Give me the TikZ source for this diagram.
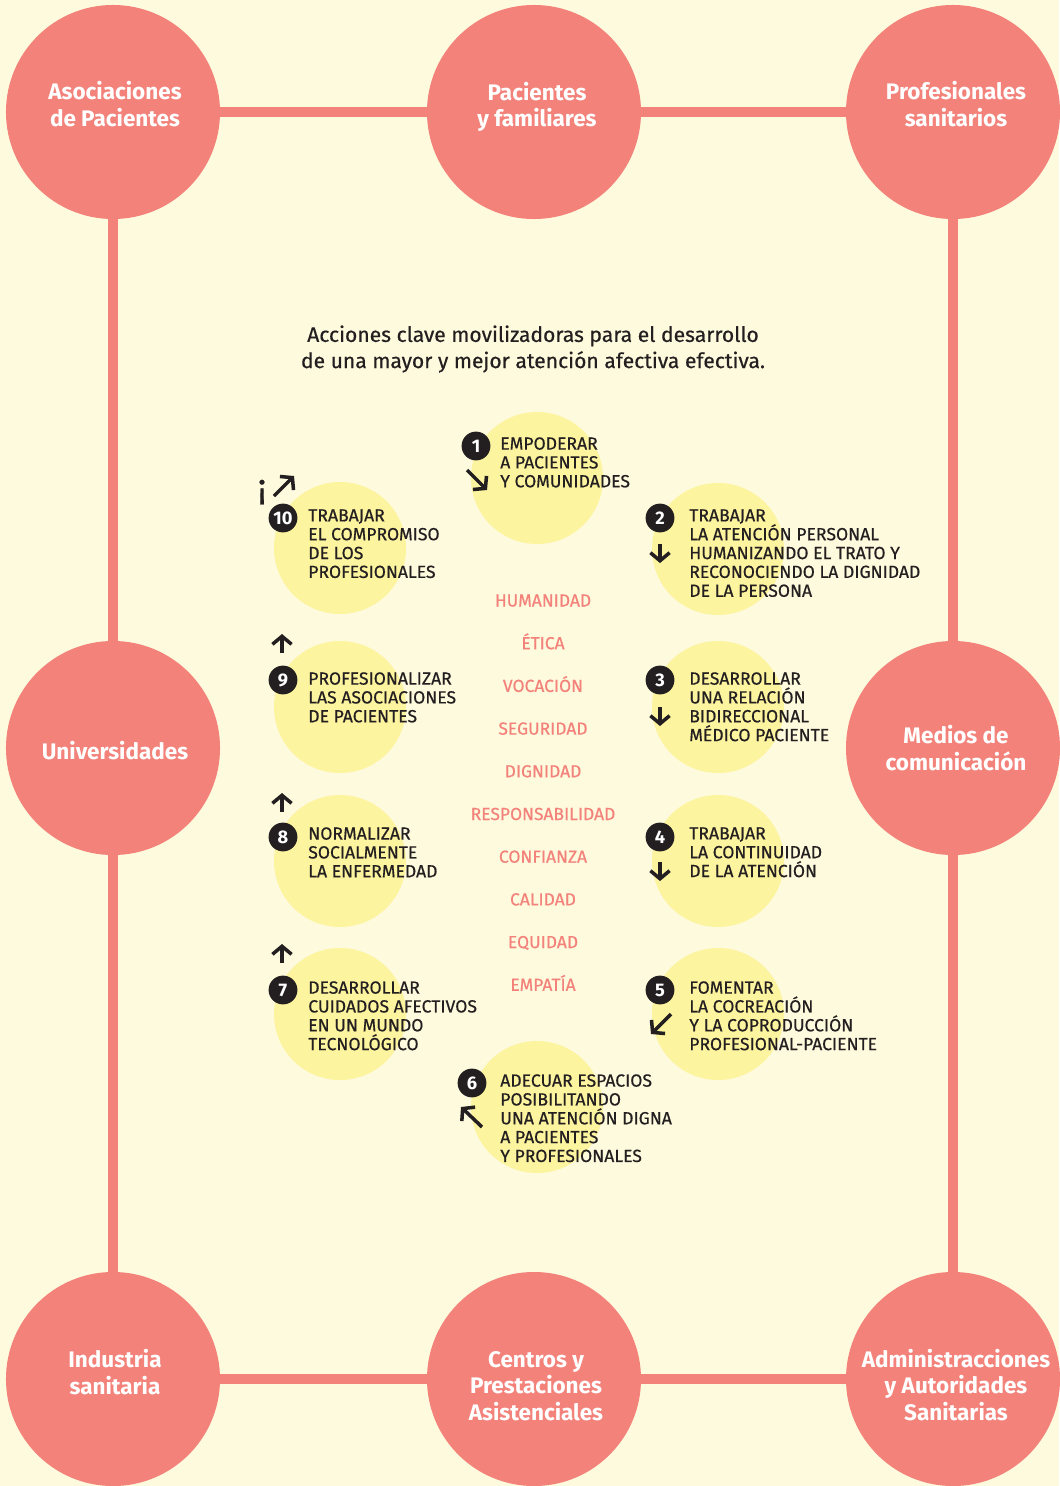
\documentclass[tikz,border=0pt]{standalone}
\usepackage{fontspec}
\setmainfont{Fira Sans}
\newfontfamily\medfont[FakeBold=0.5]{Fira Sans}
\usepackage{xcolor}
\usetikzlibrary{arrows.meta}
\definecolor{coral}{HTML}{F3827B}
\definecolor{cream}{HTML}{FEFADD}
\definecolor{spotyellow}{HTML}{FDF4A0}
\definecolor{ink}{HTML}{231F20}

\begin{document}
\begin{tikzpicture}[x=0.025cm, y=-0.025cm,
    actor/.style={circle, fill=coral, minimum size=5.35cm, inner sep=0},
    actortext/.style={align=center, text=white, inner sep=0, font=\bfseries\fontsize{16}{19}\selectfont},
    spot/.style={circle, fill=spotyellow, minimum size=3.3cm, inner sep=0},
    badge/.style={circle, fill=ink, minimum size=0.72cm, inner sep=0, text=white, font=\bfseries\fontsize{13}{13}\selectfont},
    action/.style={anchor=north west, align=left, inner sep=0, text=ink, font=\medfont\fontsize{12.5}{13.4}\selectfont},
    value/.style={anchor=base, inner sep=0, text=coral, font=\medfont\fontsize{12.4}{13}\selectfont},
    link/.style={draw=coral, line width=0.25cm},
    arr/.style={draw=ink, line width=2.5pt, -{Straight Barb[length=0.2cm, width=0.48cm]}}]
\useasboundingbox[fill=cream] (0,0) rectangle (1059,1486);

% actores
\node[actor] (asoc) at (113,112) {};
\node[actor] (pac) at (534,112) {};
\node[actor] (prof) at (953,112) {};
\node[actor] (univ) at (113,748) {};
\node[actor] (medios) at (953,748) {};
\node[actor] (ind) at (113,1379) {};
\node[actor] (centros) at (534,1379) {};
\node[actor] (admin) at (953,1379) {};
\draw[link] (asoc) -- (pac);
\draw[link] (pac) -- (prof);
\draw[link] (asoc) -- (univ);
\draw[link] (univ) -- (ind);
\draw[link] (prof) -- (medios);
\draw[link] (medios) -- (admin);
\draw[link] (ind) -- (centros);
\draw[link] (centros) -- (admin);
\node[actortext] (asoc-t) at (115,104) {Asociaciones\\de Pacientes};
\node[actortext] (pac-t) at (537,107) {Pacientes\\y familiares};
\node[actortext] (prof-t) at (956,104) {Profesionales\\sanitarios};
\node[actortext] (univ-t) at (115,751) {Universidades};
\node[actortext] (medios-t) at (956,748) {Medios de\\comunicación};
\node[actortext] (ind-t) at (115,1372) {Industria\\sanitaria};
\node[actortext] (centros-t) at (536,1386) {Centros y\\Prestaciones\\Asistenciales};
\node[actortext] (admin-t) at (956,1385) {Administracciones\\y Autoridades\\Sanitarias};

\node[align=center, text=ink, inner sep=0, font=\medfont\fontsize{15}{18.6}\selectfont] (titulo) at (533,349)
    {Acciones clave movilizadoras para el desarrollo\\de una mayor y mejor atención afectiva efectiva.};

% acciones
\node[spot] (s1) at (537,478) {};
\node[spot] (s2) at (718,549) {};
\node[spot] (s3) at (718,707) {};
\node[spot] (s4) at (718,861) {};
\node[spot] (s5) at (718,1014) {};
\node[spot] (s6) at (537,1107) {};
\node[spot] (s7) at (340,1014) {};
\node[spot] (s8) at (340,861) {};
\node[spot] (s9) at (340,707) {};
\node[spot] (s10) at (340,548) {};

\node[badge] (b1) at (476,446) {1};
\node[badge] (b2) at (660,518) {2};
\node[badge] (b3) at (660,680) {3};
\node[badge] (b4) at (660,837) {4};
\node[badge] (b5) at (660,990) {5};
\node[badge] (b6) at (472,1083) {6};
\node[badge] (b7) at (283,990) {7};
\node[badge] (b8) at (283,837) {8};
\node[badge] (b9) at (283,680) {9};
\node[badge] (b10) at (283,518) {10};

\node[action] (a1) at (500,437) {EMPODERAR\\A PACIENTES\\Y COMUNIDADES};
\node[action] (a2) at (689,509) {TRABAJAR\\LA ATENCIÓN PERSONAL\\HUMANIZANDO EL TRATO Y\\RECONOCIENDO LA DIGNIDAD\\DE LA PERSONA};
\node[action] (a3) at (689,672) {DESARROLLAR\\UNA RELACIÓN\\BIDIRECCIONAL\\MÉDICO PACIENTE};
\node[action] (a4) at (689,827) {TRABAJAR\\LA CONTINUIDAD\\DE LA ATENCIÓN};
\node[action] (a5) at (689,981) {FOMENTAR\\LA COCREACIÓN\\Y LA COPRODUCCIÓN\\PROFESIONAL-PACIENTE};
\node[action] (a6) at (500,1074) {ADECUAR ESPACIOS\\POSIBILITANDO\\UNA ATENCIÓN DIGNA\\A PACIENTES\\Y PROFESIONALES};
\node[action] (a7) at (308,981) {DESARROLLAR\\CUIDADOS AFECTIVOS\\EN UN MUNDO\\TECNOLÓGICO};
\node[action] (a8) at (308,827) {NORMALIZAR\\SOCIALMENTE\\LA ENFERMEDAD};
\node[action] (a9) at (308,672) {PROFESIONALIZAR\\LAS ASOCIACIONES\\DE PACIENTES};
\node[action] (a10) at (308,509) {TRABAJAR\\EL COMPROMISO\\DE LOS\\PROFESIONALES};

\draw[arr] (b1) ++(-9,24) -- ++(20,20);
\draw[arr] (b2) ++(0,26) -- ++(0,19);
\draw[arr] (b3) ++(0,27) -- ++(0,19);
\draw[arr] (b4) ++(0,25) -- ++(0,19);
\draw[arr] (b5) ++(11,24) -- ++(-20,20);
\draw[arr] (b6) ++(10,44) -- ++(-21,-20);
\draw[arr] (b7) ++(-1,-27) -- ++(0,-19);
\draw[arr] (b8) ++(-1,-25) -- ++(0,-19);
\draw[arr] (b9) ++(-1,-27) -- ++(0,-19);
\draw[arr] (b10) ++(-9,-22) -- ++(20,-20);
\node[inner sep=0, text=ink, font=\medfont\fontsize{25}{25}\selectfont] (exc) at (262,492) {¡};

% valores
\foreach \v [count=\i from 0] in {HUMANIDAD, ÉTICA, VOCACIÓN, SEGURIDAD, DIGNIDAD,
    RESPONSABILIDAD, CONFIANZA, CALIDAD, EQUIDAD, EMPATÍA}
  \node[value] (v\i) at (543,606.5+42.7*\i) {\v};
\end{tikzpicture}
\end{document}
